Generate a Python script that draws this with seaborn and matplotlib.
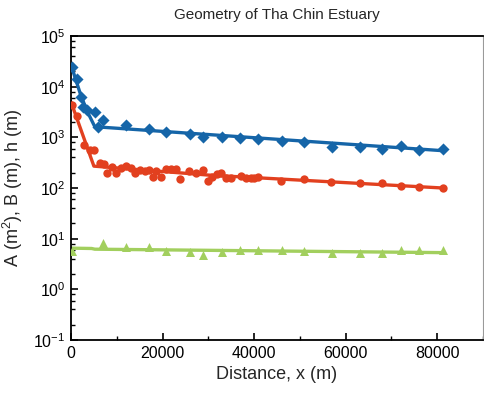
import numpy as np
import pandas as pd
import matplotlib
matplotlib.use("Agg")
import matplotlib.pyplot as plt
from matplotlib.ticker import LogLocator, NullFormatter, MultipleLocator
import seaborn as sns

# ---- data ----
a_x = [300, 1240, 2100, 2700, 3400, 5150, 6000, 7000, 12100, 17000, 20800, 25900,
       28900, 32900, 36900, 40900, 46000, 50900, 57000, 63100, 68000, 72000, 76000, 81200]
a_y = [24000, 14000, 6300, 4000, 3500, 3150, 1620, 2200, 1750, 1440, 1260, 1140,
       1000, 1000, 955, 915, 846, 808, 653, 635, 597, 675, 562, 580]

b_x = [300, 1240, 2830, 4100, 5100, 6300, 7170, 7900, 8850, 9780, 11000, 12100,
       13200, 14000, 15000, 16100, 17000, 17900, 18600, 19700, 20800, 21900, 23000,
       23800, 25700, 27200, 28800, 29900, 30800, 31900, 32800, 33800, 34900, 37100,
       38200, 39300, 40000, 40900, 45800, 50900, 56900, 63100, 68000, 72000, 76000, 81200]
b_y = [4350, 2640, 705, 560, 560, 307, 295, 200, 263, 195, 243, 275,
       243, 195, 228, 217, 228, 167, 214, 167, 235, 235, 235,
       150, 214, 195, 228, 138, 167, 185, 200, 155, 155, 173,
       155, 155, 155, 167, 140, 152, 129, 128, 124, 111, 103, 100]

h_x = [300, 7000, 12100, 17000, 20800, 25900, 28900, 32900, 36900, 40900, 46000,
       50900, 57000, 63100, 68000, 72000, 76000, 81200]
h_y = [5.8, 8.1, 6.9, 6.9, 5.6, 5.5, 4.8, 5.5, 6.0, 6.0, 6.1, 5.6, 5.3, 5.3, 5.2,
       6.1, 6.0, 6.0]

# fitted lines
a_fit_x = [0, 2000, 3400, 5200, 81200]
a_fit_y = [27000, 7400, 3460, 1620, 545]
b_fit_x = [0, 5000, 30000, 81200]
b_fit_y = [5000, 270, 180, 100]
h_fit_x = [0, 4500, 5200, 81200]
h_fit_y = [6.5, 6.4, 6.2, 5.3]

blue = "#1565A8"
red = "#E2401F"
green = "#A2CF5E"

sns.set_style("ticks")
plt.rcParams['font.family'] = ['Liberation Sans', 'DejaVu Sans']
plt.rcParams['mathtext.fontset'] = 'custom'
plt.rcParams['mathtext.rm'] = 'Liberation Sans'
plt.rcParams['mathtext.it'] = 'Liberation Sans:italic'

fig = plt.figure(figsize=(4.85, 4.0), dpi=100)
ax = fig.add_axes([71/485, 60/400, 412/485, 304/400])

for fx, fy, col in [(a_fit_x, a_fit_y, blue), (b_fit_x, b_fit_y, red), (h_fit_x, h_fit_y, green)]:
    sns.lineplot(x=fx, y=fy, ax=ax, color=col, lw=2.4, sort=False, estimator=None, zorder=2)

sns.scatterplot(x=a_x, y=a_y, ax=ax, marker="D", s=38, color=blue, edgecolor=blue, linewidth=0, zorder=3)
sns.scatterplot(x=b_x, y=b_y, ax=ax, marker="o", s=36, color=red, edgecolor=red, linewidth=0, zorder=3)
sns.scatterplot(x=h_x, y=h_y, ax=ax, marker="^", s=42, color=green, edgecolor=green, linewidth=0, zorder=3)

ax.set_yscale("log")
ax.set_ylim(0.1, 1e5)
ax.set_xlim(0, 90000)
ax.xaxis.set_major_locator(MultipleLocator(20000))
ax.xaxis.set_minor_locator(MultipleLocator(10000))
ax.yaxis.set_major_locator(LogLocator(base=10, numticks=10))
ax.yaxis.set_minor_locator(LogLocator(base=10, subs=(2, 4, 6, 8), numticks=20))
ax.yaxis.set_minor_formatter(NullFormatter())

ax.tick_params(which="both", direction="in", top=False, right=False, labelsize=11.5, colors="black")
ax.tick_params(which="major", length=5, width=1.2, pad=4)
ax.tick_params(which="minor", length=3, width=1.0)

for side in ["left", "bottom", "top"]:
    ax.spines[side].set_color("black")
    ax.spines[side].set_linewidth(1.3)
ax.spines["right"].set_color("#9a9a9a")
ax.spines["right"].set_linewidth(0.8)

ax.set_xlabel("Distance, x (m)", fontsize=13, labelpad=4)
ax.set_ylabel("A (m$^2$), B (m), h (m)", fontsize=13, labelpad=6)
ax.set_title("Geometry of Tha Chin Estuary", fontsize=11, pad=12)

fig.savefig("out.png", dpi=100)
